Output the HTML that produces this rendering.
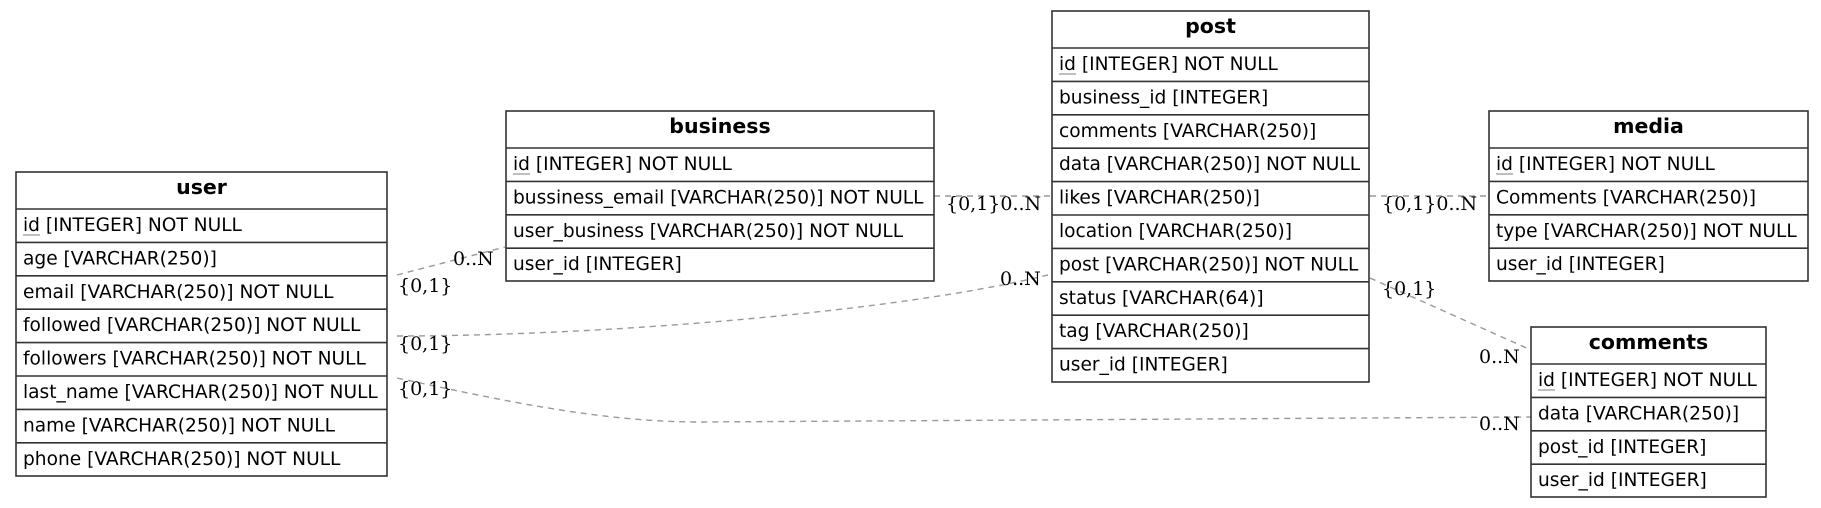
<!DOCTYPE html>
<html><head><meta charset="utf-8"><style>
html,body{margin:0;padding:0;background:#fff;}
svg{display:block;}
.t{font-family:"DejaVu Sans","Liberation Sans",sans-serif;font-size:18.6px;fill:#000;}
.h{font-family:"DejaVu Sans","Liberation Sans",sans-serif;font-size:20.5px;font-weight:bold;fill:#000;}
.l{font-family:"DejaVu Serif","Liberation Serif",serif;font-size:19px;fill:#000;}
.e{fill:none;stroke:#999;stroke-width:1.4;stroke-dasharray:6,5;}
.b{fill:#fff;stroke:#333;stroke-width:1.6;}
.r{stroke:#333;stroke-width:1.6;}
.u{stroke:#999;stroke-width:1.2;}
</style></head><body>
<svg width="1821" height="508" viewBox="0 0 1821 508" xmlns="http://www.w3.org/2000/svg">
<!-- edges -->
<path class="e" d="M397,275 L505,247"/>
<path class="e" d="M397,336 C600,336 900,312 1052,274"/>
<path class="e" d="M397,378 C500,400 600,422 700,422 L1531,417"/>
<path class="e" d="M934,196 L1052,196"/>
<path class="e" d="M1370,196 L1489,196"/>
<path class="e" d="M1370,278 L1531,350"/>
<!-- edge labels -->
<text class="l" x="453" y="265">0..N</text>
<text class="l" x="398" y="292">{0,1}</text>
<text class="l" x="1000" y="285">0..N</text>
<text class="l" x="398" y="350">{0,1}</text>
<text class="l" x="398" y="395">{0,1}</text>
<text class="l" x="1479" y="430">0..N</text>
<text class="l" x="946" y="210">{0,1}0..N</text>
<text class="l" x="1382" y="210">{0,1}0..N</text>
<text class="l" x="1382" y="295">{0,1}</text>
<text class="l" x="1479" y="363">0..N</text>

<!-- user -->
<rect class="b" x="16" y="172" width="371" height="304"/>
<text class="h" x="201.5" y="194" text-anchor="middle">user</text>
<line class="r" x1="16" y1="209" x2="387" y2="209"/>
<line class="r" x1="16" y1="242.4" x2="387" y2="242.4"/>
<line class="r" x1="16" y1="275.8" x2="387" y2="275.8"/>
<line class="r" x1="16" y1="309.2" x2="387" y2="309.2"/>
<line class="r" x1="16" y1="342.6" x2="387" y2="342.6"/>
<line class="r" x1="16" y1="376" x2="387" y2="376"/>
<line class="r" x1="16" y1="409.4" x2="387" y2="409.4"/>
<line class="r" x1="16" y1="442.8" x2="387" y2="442.8"/>
<text class="t" x="23" y="231">id [INTEGER] NOT NULL</text><line class="u" x1="23" y1="235" x2="40" y2="235"/>
<text class="t" x="23" y="264.4">age [VARCHAR(250)]</text>
<text class="t" x="23" y="297.8">email [VARCHAR(250)] NOT NULL</text>
<text class="t" x="23" y="331.2">followed [VARCHAR(250)] NOT NULL</text>
<text class="t" x="23" y="364.6">followers [VARCHAR(250)] NOT NULL</text>
<text class="t" x="23" y="398">last_name [VARCHAR(250)] NOT NULL</text>
<text class="t" x="23" y="431.4">name [VARCHAR(250)] NOT NULL</text>
<text class="t" x="23" y="464.8">phone [VARCHAR(250)] NOT NULL</text>

<!-- business -->
<rect class="b" x="506" y="111" width="428" height="170"/>
<text class="h" x="720" y="133" text-anchor="middle">business</text>
<line class="r" x1="506" y1="148" x2="934" y2="148"/>
<line class="r" x1="506" y1="181.4" x2="934" y2="181.4"/>
<line class="r" x1="506" y1="214.8" x2="934" y2="214.8"/>
<line class="r" x1="506" y1="248.2" x2="934" y2="248.2"/>
<text class="t" x="513" y="170">id [INTEGER] NOT NULL</text><line class="u" x1="513" y1="174" x2="530" y2="174"/>
<text class="t" x="513" y="203.4">bussiness_email [VARCHAR(250)] NOT NULL</text>
<text class="t" x="513" y="236.8">user_business [VARCHAR(250)] NOT NULL</text>
<text class="t" x="513" y="270.2">user_id [INTEGER]</text>

<!-- post -->
<rect class="b" x="1052" y="11" width="317" height="371"/>
<text class="h" x="1210.5" y="33" text-anchor="middle">post</text>
<line class="r" x1="1052" y1="48" x2="1369" y2="48"/>
<line class="r" x1="1052" y1="81.4" x2="1369" y2="81.4"/>
<line class="r" x1="1052" y1="114.8" x2="1369" y2="114.8"/>
<line class="r" x1="1052" y1="148.2" x2="1369" y2="148.2"/>
<line class="r" x1="1052" y1="181.6" x2="1369" y2="181.6"/>
<line class="r" x1="1052" y1="215" x2="1369" y2="215"/>
<line class="r" x1="1052" y1="248.4" x2="1369" y2="248.4"/>
<line class="r" x1="1052" y1="281.8" x2="1369" y2="281.8"/>
<line class="r" x1="1052" y1="315.2" x2="1369" y2="315.2"/>
<line class="r" x1="1052" y1="348.6" x2="1369" y2="348.6"/>
<text class="t" x="1059" y="70">id [INTEGER] NOT NULL</text><line class="u" x1="1059" y1="74" x2="1076" y2="74"/>
<text class="t" x="1059" y="103.4">business_id [INTEGER]</text>
<text class="t" x="1059" y="136.8">comments [VARCHAR(250)]</text>
<text class="t" x="1059" y="170.2">data [VARCHAR(250)] NOT NULL</text>
<text class="t" x="1059" y="203.6">likes [VARCHAR(250)]</text>
<text class="t" x="1059" y="237">location [VARCHAR(250)]</text>
<text class="t" x="1059" y="270.4">post [VARCHAR(250)] NOT NULL</text>
<text class="t" x="1059" y="303.8">status [VARCHAR(64)]</text>
<text class="t" x="1059" y="337.2">tag [VARCHAR(250)]</text>
<text class="t" x="1059" y="370.6">user_id [INTEGER]</text>

<!-- media -->
<rect class="b" x="1489" y="111" width="319" height="170"/>
<text class="h" x="1648.5" y="133" text-anchor="middle">media</text>
<line class="r" x1="1489" y1="148" x2="1808" y2="148"/>
<line class="r" x1="1489" y1="181.4" x2="1808" y2="181.4"/>
<line class="r" x1="1489" y1="214.8" x2="1808" y2="214.8"/>
<line class="r" x1="1489" y1="248.2" x2="1808" y2="248.2"/>
<text class="t" x="1496" y="170">id [INTEGER] NOT NULL</text><line class="u" x1="1496" y1="174" x2="1513" y2="174"/>
<text class="t" x="1496" y="203.4">Comments [VARCHAR(250)]</text>
<text class="t" x="1496" y="236.8">type [VARCHAR(250)] NOT NULL</text>
<text class="t" x="1496" y="270.2">user_id [INTEGER]</text>

<!-- comments -->
<rect class="b" x="1531" y="327" width="235" height="170"/>
<text class="h" x="1648.5" y="349" text-anchor="middle">comments</text>
<line class="r" x1="1531" y1="364" x2="1766" y2="364"/>
<line class="r" x1="1531" y1="397.4" x2="1766" y2="397.4"/>
<line class="r" x1="1531" y1="430.8" x2="1766" y2="430.8"/>
<line class="r" x1="1531" y1="464.2" x2="1766" y2="464.2"/>
<text class="t" x="1538" y="386">id [INTEGER] NOT NULL</text><line class="u" x1="1538" y1="390" x2="1555" y2="390"/>
<text class="t" x="1538" y="419.4">data [VARCHAR(250)]</text>
<text class="t" x="1538" y="452.8">post_id [INTEGER]</text>
<text class="t" x="1538" y="486.2">user_id [INTEGER]</text>
</svg>
</body></html>
